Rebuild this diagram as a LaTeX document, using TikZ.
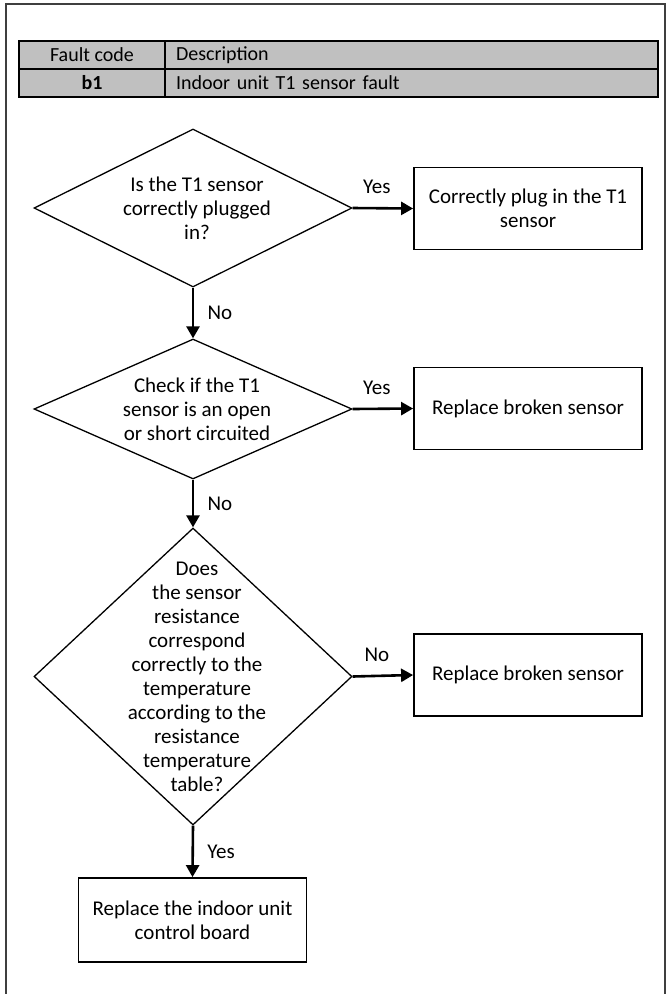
\documentclass[tikz,border=0pt]{standalone}
\usepackage{fontspec}
\setmainfont{Carlito}
\usetikzlibrary{arrows.meta,positioning,shapes.geometric}
\definecolor{FaultGrey}{HTML}{C0C0C0}
\definecolor{FrameInk}{HTML}{3F3F3F}

\begin{document}
\begin{tikzpicture}[x=1pt,y=-1pt,font=\fontsize{21}{24}\selectfont,
  decision/.style={draw=black, diamond, line width=1.3pt, inner sep=0pt, minimum width=318pt},
  qtext/.style={align=center, inner sep=0pt, xshift=4pt},
  action/.style={draw=black, rectangle, line width=1.8pt, minimum width=228pt, minimum height=82pt, align=center},
  flow/.style={line width=2.6pt, -{Triangle[length=12pt,width=13pt]}},
  cell/.style={draw=black, line width=1.3pt, fill=FaultGrey, minimum height=28pt, inner sep=0pt, font=\fontsize{20}{24}\selectfont}
]
  \useasboundingbox (0,0) rectangle (671,994);
  \draw[FrameInk, line width=1.3pt] (6,994) |- (665,4) -- (665,994);

  % fault table
  \node[cell, minimum width=146pt] (codehead) at (92,55) {Fault code};
  \node[cell, inner xsep=11pt, text width=471pt, align=left] (deschead) at (411.5,55) {Description};
  \node[cell, minimum width=146pt] (code) at (92,83) {\textbf{b1}};
  \node[cell, inner xsep=11pt, text width=471pt, align=left] (desc) at (411.5,83) {Indoor unit T1 sensor fault};

  % checks
  \node[decision, minimum height=158pt] (plugged) at (193,208) {};
  \node[qtext] (pluggedtxt) at (plugged) {Is the T1 sensor\\correctly plugged\\in?};
  \node[action] (plugin) at (528,208.5) {Correctly plug in the T1\\sensor};

  \node[decision, minimum height=140pt] (circuit) at (193,409) {};
  \node[qtext] (circuittxt) at (circuit) {Check if the T1\\sensor is an open\\or short circuited};
  \node[action] (broken1) at (528,408.5) {Replace broken sensor};

  \node[decision, minimum height=297pt] (resist) at (193,676.5) {};
  \node[qtext] (resisttxt) at (resist) {Does\\the sensor\\resistance\\correspond\\correctly to the\\temperature\\according to the\\resistance\\temperature\\table?};
  \node[action] (broken2) at (528,675) {Replace broken sensor};

  \node[action, minimum height=84pt] (board) at (192.5,920) {Replace the indoor unit\\control board};

  % arrows
  \draw[flow] (plugged.east) -- node[pos=0.4, above=10pt] (yes1) {Yes} (plugin.west);
  \draw[flow] (plugged.south) -- node[right=10pt] (no1) {No} (circuit.north);
  \draw[flow] (circuit.east) -- node[pos=0.4, above=10pt] (yes2) {Yes} (broken1.west);
  \draw[flow] (circuit.south) -- node[right=10pt] (no2) {No} (resist.north);
  \draw[flow] (resist.east) -- node[pos=0.4, above=10pt] (no3) {No} (broken2.west);
  \draw[flow] (resist.south) -- node[right=10pt] (yes3) {Yes} (board.north);
\end{tikzpicture}
\end{document}
